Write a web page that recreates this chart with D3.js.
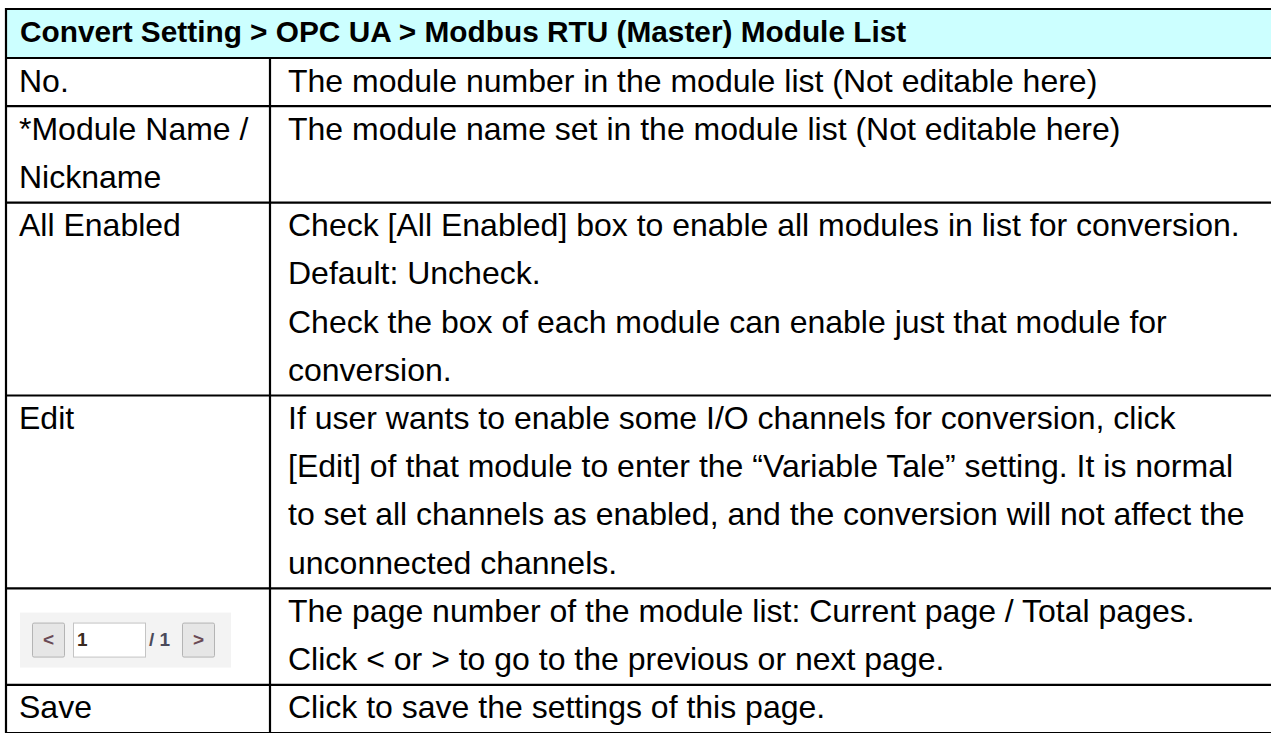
<!DOCTYPE html>
<html>
<head>
<meta charset="utf-8">
<script src="https://cdn.jsdelivr.net/npm/d3@7"></script>
<style>
html,body{margin:0;padding:0;background:#fff;overflow:hidden;}
svg{display:block;}
text{font-family:"Liberation Sans",Arial,sans-serif;}
</style>
</head>
<body>
<svg id="chart" width="1271" height="733"></svg>
<script>
const title = "Convert Setting > OPC UA > Modbus RTU (Master) Module List";
const itemLabels = [["No."], ["*Module Name /", "Nickname"], ["All Enabled"], ["Edit"], null, ["Save"]];
const descriptions = [
  ["The module number in the module list (Not editable here)"],
  ["The module name set in the module list (Not editable here)", ""],
  ["Check [All Enabled] box to enable all modules in list for conversion.",
   "Default: Uncheck.",
   "Check the box of each module can enable just that module for",
   "conversion."],
  ["If user wants to enable some I/O channels for conversion, click",
   "[Edit] of that module to enter the \u201cVariable Tale\u201d setting. It is normal",
   "to set all channels as enabled, and the conversion will not affect the",
   "unconnected channels."],
  ["The page number of the module list: Current page / Total pages.",
   "Click < or > to go to the previous or next page."],
  ["Click to save the settings of this page."]
];
const pagerParts = {prev: "<", page: "1", total: "/ 1", next: ">"};

const svg = d3.select("#chart");
const W = 1271, left = 6, colX = 270, headTop = 9, headBottom = 58;
const bodySize = 32, headSize = 29.8;
const lineCounts = descriptions.map(d => d.length);
const cum = [0];
lineCounts.forEach(c => cum.push(cum[cum.length-1] + c));
const total = cum[cum.length-1];
const y = d3.scaleLinear().domain([0, total]).range([headBottom, 733]);

// header
svg.append("rect").attr("x", left).attr("y", headTop).attr("width", W - left + 2).attr("height", headBottom - headTop).attr("fill", "#ccffff");
svg.append("text").attr("x", 20).attr("y", (headTop + headBottom) / 2 + 1).attr("dominant-baseline", "middle")
  .attr("font-size", headSize).attr("font-weight", "bold").attr("fill", "#000").text(title);

const rows = svg.append("g");
descriptions.forEach((lines, i) => {
  lines.forEach((t, j) => {
    rows.append("text").attr("x", 288).attr("y", (y(cum[i] + j) + y(cum[i] + j + 1)) / 2 + 1)
      .attr("dominant-baseline", "middle").attr("font-size", bodySize).attr("fill", "#000").text(t);
  });
  const lab = itemLabels[i];
  if (lab) {
    lab.forEach((t, j) => {
      rows.append("text").attr("x", 19).attr("y", (y(cum[i] + j) + y(cum[i] + j + 1)) / 2 + 1)
        .attr("dominant-baseline", "middle").attr("font-size", bodySize).attr("fill", "#000").text(t);
    });
  } else {
    // pager widget
    const cy = (y(cum[i]) + y(cum[i + 1])) / 2 + 3;
    const g = rows.append("g");
    g.append("rect").attr("x", 20).attr("y", cy - 27).attr("width", 211).attr("height", 55).attr("fill", "#f3f3f3");
    const btn = (x, w, label) => {
      g.append("rect").attr("x", x + 0.5).attr("y", cy - 16.5).attr("width", w).attr("height", 34)
        .attr("fill", "#e6e6e6").attr("stroke", "#b4b4b4").attr("rx", 1.5);
      g.append("text").attr("x", x + w / 2 + 0.5).attr("y", cy + 1).attr("text-anchor", "middle")
        .attr("dominant-baseline", "middle").attr("font-size", 19).attr("font-weight", "bold").attr("fill", "#6a4a55").text(label);
    };
    btn(32, 32, pagerParts.prev);
    g.append("rect").attr("x", 73.5).attr("y", cy - 16.5).attr("width", 72).attr("height", 34)
      .attr("fill", "#fff").attr("stroke", "#c4c4c4");
    g.append("text").attr("x", 77).attr("y", cy + 1).attr("dominant-baseline", "middle")
      .attr("font-size", 19).attr("font-weight", "bold").attr("fill", "#3a2a20").text(pagerParts.page);
    g.append("text").attr("x", 149).attr("y", cy + 1).attr("dominant-baseline", "middle")
      .attr("font-size", 19).attr("font-weight", "bold").attr("fill", "#4a4a5a").text(pagerParts.total);
    btn(182, 32, pagerParts.next);
  }
});

// grid lines
const lines = svg.append("g").attr("stroke", "#000").attr("stroke-width", 2.2);
lines.append("line").attr("x1", left).attr("x2", W + 2).attr("y1", headTop).attr("y2", headTop);
cum.forEach(c => {
  const yy = y(c);
  lines.append("line").attr("x1", left).attr("x2", W + 2).attr("y1", yy).attr("y2", yy);
});
lines.append("line").attr("x1", left).attr("x2", left).attr("y1", headTop - 1).attr("y2", 735);
lines.append("line").attr("x1", colX).attr("x2", colX).attr("y1", headBottom).attr("y2", 735);
</script>
</body>
</html>
